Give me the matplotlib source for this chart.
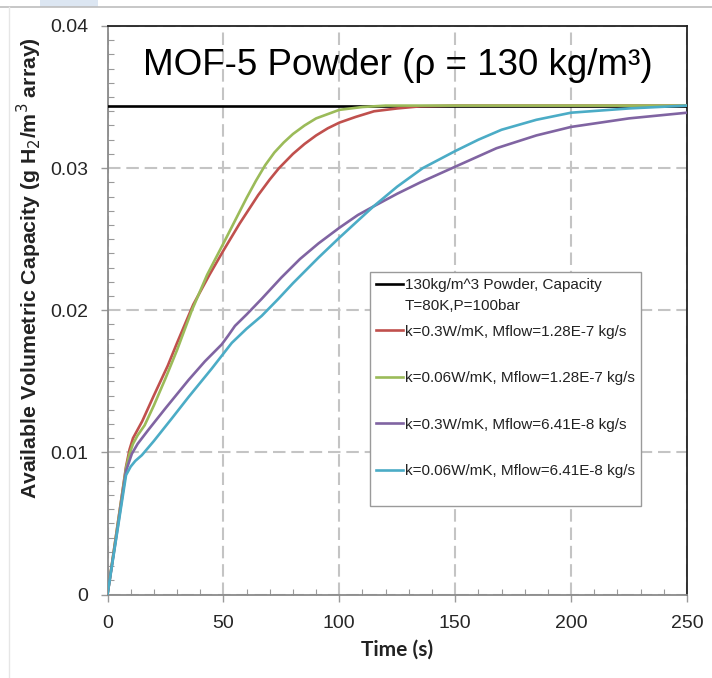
import matplotlib
matplotlib.use("Agg")
import matplotlib.pyplot as plt
from matplotlib.ticker import MultipleLocator, FixedLocator
from matplotlib.legend_handler import HandlerLine2D
from matplotlib.lines import Line2D
from matplotlib.patches import Rectangle

# ---------------- data ----------------
capacity_t = [0, 250]
capacity_v = [0.0344, 0.0344]

red_t = [0, 4, 8, 9.5, 11, 13, 15, 20, 26, 30, 37, 44, 50, 57, 65, 70, 74, 80, 85, 90,
         95, 100, 107, 115, 125, 135, 150, 250]
red_v = [0, 0.0045, 0.0090, 0.0102, 0.0110, 0.0116, 0.0122, 0.0140, 0.0161, 0.0177,
         0.0204, 0.0225, 0.0242, 0.0261, 0.0281, 0.0292, 0.0300, 0.0310, 0.0317, 0.0323,
         0.0328, 0.0332, 0.0336, 0.0340, 0.0342, 0.03435, 0.0344, 0.0344]

green_t = [0, 4, 8, 9.5, 11, 13, 16, 20, 25, 30, 36.4, 43, 50, 55, 60, 64, 68, 72, 76,
           80, 85, 90, 95, 100, 105, 110, 120, 250]
green_v = [0, 0.0045, 0.0089, 0.0099, 0.0106, 0.0112, 0.0119, 0.0133, 0.0152, 0.0172,
           0.0200, 0.0225, 0.0247, 0.0263, 0.0279, 0.0291, 0.0302, 0.0311, 0.0318,
           0.0324, 0.0330, 0.0335, 0.0338, 0.0341, 0.0342, 0.0343, 0.0344, 0.0344]

purple_t = [0, 4, 8, 10.5, 13, 17.7, 25, 35, 42, 49.3, 52, 55, 60, 66.5, 75, 83, 91,
            100, 108, 114.7, 125, 135, 150, 167.8, 185, 200, 225, 250]
purple_v = [0, 0.0043, 0.0087, 0.0099, 0.0106, 0.0116, 0.0131, 0.0151, 0.0164, 0.0176,
            0.0182, 0.0189, 0.0197, 0.0208, 0.0223, 0.0236, 0.0247, 0.0258, 0.0267,
            0.0273, 0.0282, 0.0290, 0.0301, 0.0314, 0.0323, 0.0329, 0.0335, 0.0339]

cyan_t = [0, 4, 8, 10, 12, 14.8, 20, 27.8, 35, 45, 53.6, 60, 66.5, 73.7, 80, 91, 100,
          108, 114.7, 125, 136, 150, 160, 170, 185, 200, 225, 250]
cyan_v = [0, 0.0042, 0.0084, 0.0090, 0.0094, 0.0098, 0.0108, 0.0124, 0.0139, 0.0159,
          0.0177, 0.0187, 0.0196, 0.0208, 0.0219, 0.0237, 0.0251, 0.0263, 0.0273,
          0.0287, 0.0300, 0.0312, 0.0320, 0.0327, 0.0334, 0.0339, 0.0342, 0.0344]

labels = [
    "130kg/m^3 Powder, Capacity\nT=80K,P=100bar",
    "k=0.3W/mK, Mflow=1.28E-7 kg/s\n ",
    "k=0.06W/mK, Mflow=1.28E-7 kg/s\n ",
    "k=0.3W/mK, Mflow=6.41E-8 kg/s\n ",
    "k=0.06W/mK, Mflow=6.41E-8 kg/s\n ",
]
colors = ["#000000", "#C0504D", "#9BBB59", "#8064A2", "#4BACC6"]

x_ticks = [0, 50, 100, 150, 200, 250]
y_ticks = [0, 0.01, 0.02, 0.03, 0.04]
y_ticklabels = ["0", "0.01", "0.02", "0.03", "0.04"]

title_text = "MOF-5 Powder (\u03c1 = 130 kg/m\u00b3)"

# ---------------- figure ----------------
W, H = 712, 678
fig = plt.figure(figsize=(W / 100, H / 100), dpi=100)
fig.patch.set_facecolor("white")

ax_l, ax_r = 107.5, 687.0
ax_t, ax_b = 26.0, 594.5
ax = fig.add_axes([ax_l / W, 1 - ax_b / H, (ax_r - ax_l) / W, (ax_b - ax_t) / H])

series = [(capacity_t, capacity_v), (red_t, red_v), (green_t, green_v),
          (purple_t, purple_v), (cyan_t, cyan_v)]
lines = []
for (t, v), c, lab in zip(series, colors, labels):
    ln, = ax.plot(t, v, color=c, lw=1.9, label=lab, solid_joinstyle="round", zorder=3)
    lines.append(ln)

ax.set_xlim(0, 250)
ax.set_ylim(0, 0.04)
ax.xaxis.set_major_locator(FixedLocator(x_ticks))
ax.yaxis.set_major_locator(FixedLocator(y_ticks))
ax.set_yticklabels(y_ticklabels)
ax.xaxis.set_minor_locator(MultipleLocator(10))
ax.yaxis.set_minor_locator(MultipleLocator(0.001))

ax.grid(True, which="major", color="#C4C4C4", lw=1.5, ls=(0, (6, 2.8)), zorder=1)
ax.set_axisbelow(True)

for s in ["left", "bottom"]:
    ax.spines[s].set_color("#8A8A8A")
    ax.spines[s].set_linewidth(1.3)
for s in ["top", "right"]:
    ax.spines[s].set_color("#222222")
    ax.spines[s].set_linewidth(1.3)

ax.tick_params(which="major", direction="out", length=5, width=1.0, color="#9A9A9A",
               labelsize=14, labelcolor="#262626")
ax.tick_params(axis="x", which="major", pad=10)
ax.tick_params(axis="y", which="major", pad=9)
ax.tick_params(which="minor", direction="in", length=4, width=0.8, color="#9A9A9A")
for lab in ax.get_xticklabels() + ax.get_yticklabels():
    lab.set_fontfamily("Liberation Sans")

ax.set_xlabel("Time (s)", fontsize=15, fontweight="bold", family="Lato", color="#222222")
ax.xaxis.set_label_coords(0.5, -0.08)
ax.xaxis.label.set_va("top")
ax.set_ylabel("Available Volumetric Capacity (g H$_2$/m$^3$ array)", fontsize=15.3,
              fontweight="bold", family="Liberation Sans", color="#222222")
ax.yaxis.set_label_coords(-0.11, 0.575)

ax.text(0.501, 0.930, title_text, transform=ax.transAxes, ha="center", va="center",
        fontsize=26.5, family="Liberation Sans", color="black", zorder=5)


class TopHandler(HandlerLine2D):
    def __init__(self, shift, **kw):
        super().__init__(**kw)
        self.shift = shift

    def create_artists(self, legend, orig_handle, xdescent, ydescent, width, height,
                       fontsize, trans):
        arts = super().create_artists(legend, orig_handle, xdescent, ydescent, width,
                                      height, fontsize, trans)
        for a in arts:
            if isinstance(a, Line2D):
                a.set_ydata([y + self.shift for y in a.get_ydata()])
        return arts


leg_left, leg_top = 370.0, 272.0
leg = ax.legend(
    handles=lines, labels=labels, loc="upper left",
    bbox_to_anchor=((leg_left - ax_l) / (ax_r - ax_l), (ax_b - leg_top) / (ax_b - ax_t)),
    borderaxespad=0, frameon=True, fancybox=False, framealpha=1,
    edgecolor="#9A9A9A", handlelength=1.75, handletextpad=0.12, labelspacing=0.78,
    borderpad=0.42,
    handler_map={ln: TopHandler(shift=8.7) for ln in lines},
    prop={"family": "Liberation Sans", "size": 11},
)
leg.get_frame().set_linewidth(1.0)
for t in leg.get_texts():
    t.set_linespacing(1.6)
    t.set_color("#222222")
leg.set_zorder(6)

# screenshot frame decorations
fig.add_artist(Line2D([0, 1], [1 - 7.3 / H, 1 - 7.3 / H], color="#BDBDBD", lw=1.2,
                      transform=fig.transFigure))
fig.add_artist(Line2D([9 / W, 9 / W], [0, 1 - 7.3 / H], color="#E6E6E6", lw=1.0,
                      transform=fig.transFigure))
fig.add_artist(Rectangle((40 / W, 1 - 6.5 / H), 58 / W, 6.5 / H, color="#DCE6F2",
                         transform=fig.transFigure, lw=0))

fig.savefig("out.png", dpi=100, facecolor="white")
